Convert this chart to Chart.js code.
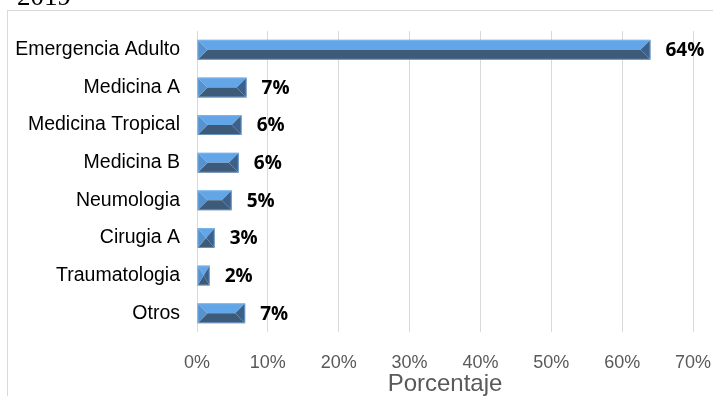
<!DOCTYPE html>
<html>
<head>
<meta charset="utf-8">
<script src="https://cdn.jsdelivr.net/npm/chart.js@4"></script>
<style>
  html, body { margin: 0; padding: 0; background: #fff; }
  #wrap { position: relative; width: 713px; height: 396px; }
</style>
</head>
<body>
<div id="wrap"><canvas id="grafico" width="713" height="396"></canvas></div>
<script>
// Datos del gráfico
const servicios = ['Emergencia Adulto', 'Medicina A', 'Medicina Tropical', 'Medicina B',
                   'Neumologia', 'Cirugia A', 'Traumatologia', 'Otros'];
const porcentajes = [64.0, 7.0, 6.3, 5.9, 4.9, 2.5, 1.8, 6.8];
const etiquetas = ['64%', '7%', '6%', '6%', '5%', '3%', '2%', '7%'];
const ticksX = [0, 10, 20, 30, 40, 50, 60, 70];

// Marco exterior y el "2019" cortado arriba
const fondo = {
    id: 'fondo',
    beforeDraw(chart) {
        const ctx = chart.ctx;
        ctx.save();
        ctx.strokeStyle = '#d9d9d9';
        ctx.lineWidth = 1;
        ctx.strokeRect(7.5, 10.5, 800, 500);
        ctx.fillStyle = '#000';
        ctx.font = '27px "Liberation Serif"';
        ctx.textBaseline = 'alphabetic';
        ctx.fillText('2019', 17, 5);
        ctx.restore();
    }
};

// Barras con bisel (estilo Excel) + etiquetas de valor
const bisel = {
    id: 'bisel',
    afterDatasetsDraw(chart) {
        const ctx = chart.ctx;
        const meta = chart.getDatasetMeta(0);
        ctx.save();
        meta.data.forEach((bar, i) => {
            const x0 = bar.base, x1 = bar.x;
            const top = bar.y - bar.height / 2, bot = bar.y + bar.height / 2;
            const mid = bar.y;
            const d = Math.min(bar.height / 2, (x1 - x0) / 2);
            const cara = (pts, color) => {
                ctx.beginPath();
                ctx.moveTo(pts[0][0], pts[0][1]);
                pts.slice(1).forEach(p => ctx.lineTo(p[0], p[1]));
                ctx.closePath();
                ctx.fillStyle = color;
                ctx.fill();
            };
            // cara superior
            cara([[x0, top], [x1, top], [x1 - d, mid], [x0 + d, mid]], '#63a6e8');
            // cara inferior
            cara([[x0 + d, mid], [x1 - d, mid], [x1, bot], [x0, bot]], '#3d5a79');
            // cara izquierda
            cara([[x0, top], [x0 + d, mid], [x0, bot]], '#5592cf');
            // cara derecha
            cara([[x1, top], [x1, bot], [x1 - d, mid]], '#3b618b');
            // borde claro
            ctx.strokeStyle = 'rgba(140,190,240,0.6)';
            ctx.lineWidth = 1;
            ctx.strokeRect(x0 + 0.5, top + 0.5, x1 - x0 - 1, bot - top - 1);

            ctx.fillStyle = '#000';
            ctx.font = 'bold 19px "Open Sans"';
            ctx.textAlign = 'left';
            ctx.textBaseline = 'middle';
            ctx.fillText(etiquetas[i], x1 + 15, mid + 1);
        });
        ctx.restore();
    }
};

const ctx = document.getElementById('grafico').getContext('2d');

new Chart(ctx, {
    type: 'bar',
    data: {
        labels: servicios,
        datasets: [{
            data: porcentajes,
            backgroundColor: 'rgba(0,0,0,0)',
            borderWidth: 0,
            barPercentage: 0.53,
            categoryPercentage: 1
        }]
    },
    options: {
        indexAxis: 'y',
        responsive: false,
        animation: false,
        layout: { padding: { top: 31, right: 0, left: 0, bottom: 0 } },
        plugins: {
            legend: { display: false },
            tooltip: { enabled: false }
        },
        scales: {
            x: {
                min: 0,
                max: 70,
                afterBuildTicks: (scale) => {
                    scale.ticks = ticksX.map(v => ({ value: v }));
                },
                afterFit: (scale) => {
                    scale.height = 64;
                    scale.paddingRight = 20;
                },
                grid: { color: '#d9d9d9', drawTicks: false },
                border: { display: false },
                ticks: {
                    padding: 20,
                    color: '#595959',
                    font: { family: '"Liberation Sans"', size: 18 },
                    callback: (v) => v + '%'
                },
                title: {
                    display: true,
                    text: 'Porcentaje',
                    color: '#595959',
                    font: { family: '"Liberation Sans"', size: 24, lineHeight: 1 },
                    padding: 0
                }
            },
            y: {
                afterFit: (scale) => { scale.width = 197; },
                grid: { display: false, drawTicks: false },
                border: { display: false },
                ticks: {
                    padding: 17,
                    color: '#000',
                    font: { family: '"Liberation Sans"', size: 19.5 }
                }
            }
        }
    },
    plugins: [fondo, bisel]
});
</script>
</body>
</html>
